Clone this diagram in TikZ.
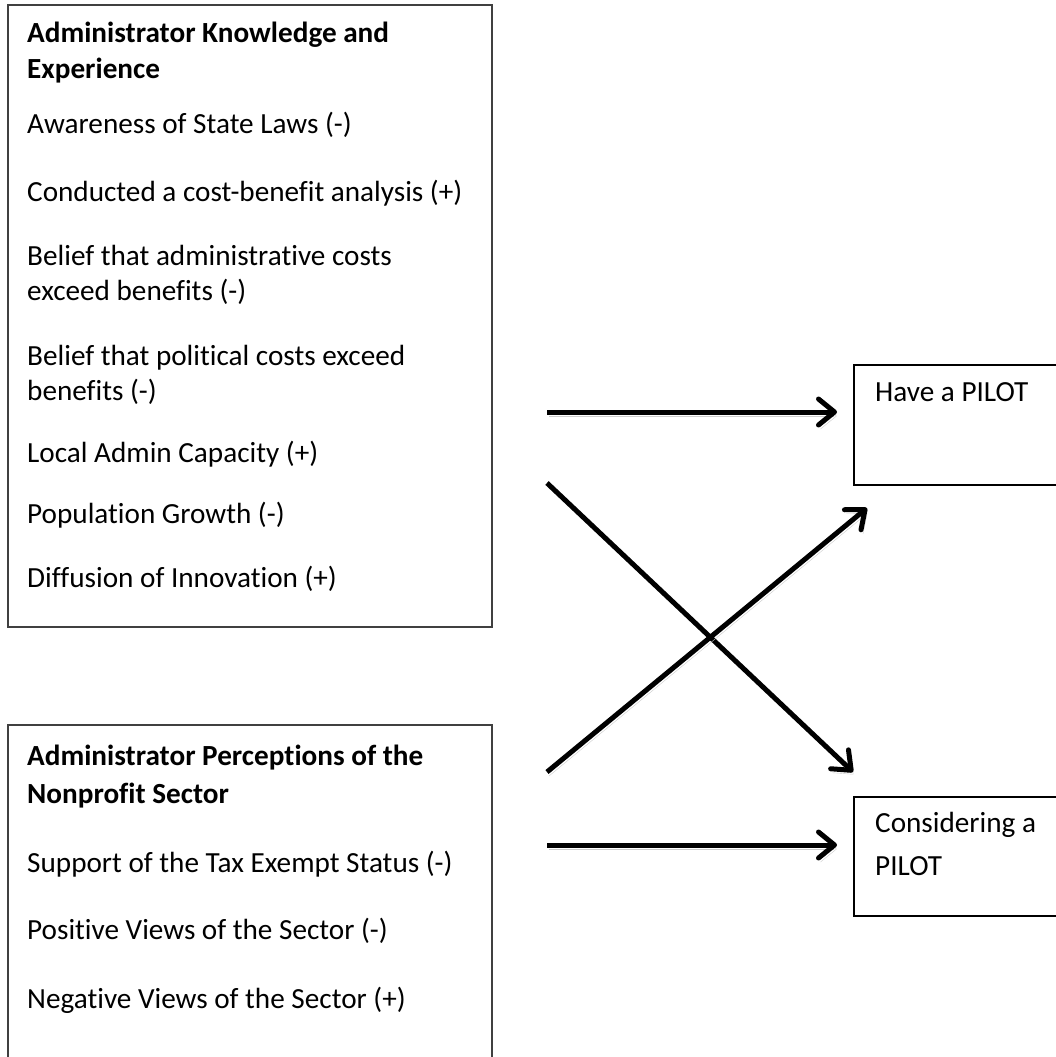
\documentclass[tikz,border=0pt]{standalone}
\usepackage{fontspec}
\setmainfont{Carlito}[RawFeature={-liga;-clig;-calt}]
\usetikzlibrary{arrows.meta}
\tikzset{
    factorbox/.style={draw=black!75, line width=1.6pt, inner sep=0pt, anchor=north west},
    outcomebox/.style={draw=black, line width=2.4pt, inner sep=0pt, anchor=north west},
    item/.style={anchor=base west, inner sep=0pt, font=\fontsize{29.2}{34}\selectfont},
    heading/.style={item, font=\fontsize{29.2}{34}\selectfont\bfseries},
    effect/.style={line width=5pt, -{Straight Barb[length=16pt,width=26pt,round]},
        preaction={draw=gray!40, transform canvas={shift={(2pt,-4pt)}}}}
}
\begin{document}
\begin{tikzpicture}[x=1pt, y=-1pt]
    \clip (0,0) rectangle (1056,1057);
    \fill[white] (0,0) rectangle (1056,1057);
    % Factor boxes
    \node[factorbox, minimum width=484pt, minimum height=622pt] (knowledge) at (7,4) {};
    \node[factorbox, minimum width=484pt, minimum height=400pt] (perception) at (7,724) {};
    % Outcome boxes
    \node[outcomebox, minimum width=260pt, minimum height=120pt] (have) at (853,364) {};
    \node[outcomebox, minimum width=260pt, minimum height=119pt] (consider) at (853,796) {};
    % Knowledge and experience
    \foreach \y/\txt [count=\i] in {43/{Administrator Knowledge and}, 78/{Experience}} {
        \node[heading] (kh\i) at (27,\y) {\txt};
    }
    \foreach \y/\txt [count=\i] in {133/{Awareness of State Laws (-)}, 201/{Conducted a cost-benefit analysis (+)},
        265/{Belief that administrative costs}, 300/{exceed benefits (-)}, 365/{Belief that political costs exceed},
        400/{benefits (-)}, 462/{Local Admin Capacity (+)}, 523/{Population Growth (-)}, 587/{Diffusion of Innovation (+)}} {
        \node[item] (k\i) at (27,\y) {\txt};
    }
    % Perceptions of the sector
    \foreach \y/\txt [count=\i] in {765/{Administrator Perceptions of the}, 803/{Nonprofit Sector}} {
        \node[heading] (ph\i) at (27,\y) {\txt};
    }
    \foreach \y/\txt [count=\i] in {872/{Support of the Tax Exempt Status (-)}, 939/{Positive Views of the Sector (-)},
        1008/{Negative Views of the Sector (+)}} {
        \node[item] (p\i) at (27,\y) {\txt};
    }
    % Outcomes
    \node[item] (have1) at (875,401) {Have a PILOT};
    \node[item] (cons1) at (875,832) {Considering a};
    \node[item] (cons2) at (875,875) {PILOT};
    % Arrows
    \coordinate (kh-s) at (547,412);  \coordinate (kh-e) at (837,412);
    \coordinate (kc-s) at (547,483);  \coordinate (kc-e) at (853,772);
    \coordinate (ph-s) at (547,772);  \coordinate (ph-e) at (867,508);
    \coordinate (pc-s) at (547,845);  \coordinate (pc-e) at (837,845);
    \foreach \a in {kh,kc,ph,pc} {
        \draw[effect] (\a-s) -- (\a-e);
    }
\end{tikzpicture}
\end{document}
